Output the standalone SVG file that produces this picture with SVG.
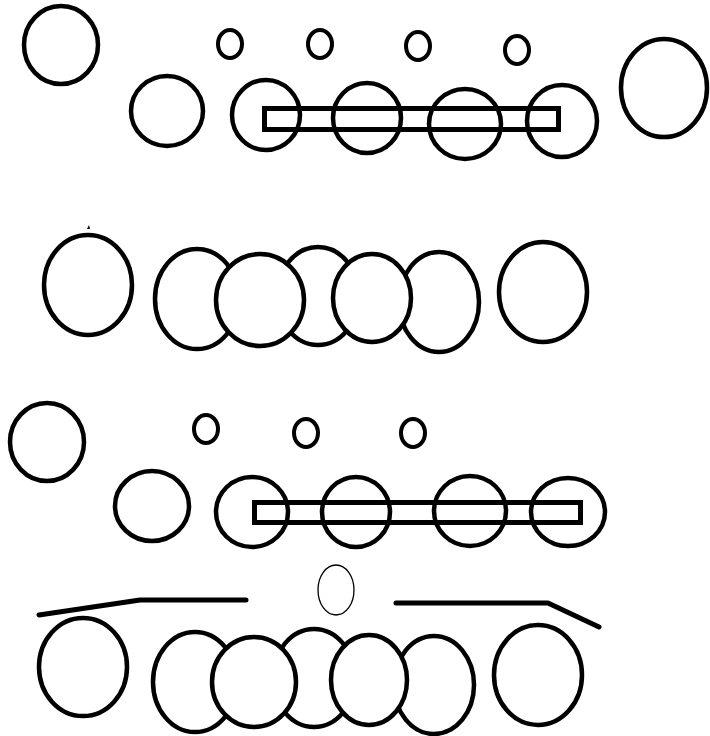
<svg xmlns="http://www.w3.org/2000/svg" width="710" height="736" viewBox="0 0 710 736">
<style>
.s{fill:#fff;stroke:#000;stroke-width:4.5}
.t{fill:#fff;stroke:#000;stroke-width:4}
.th{fill:#fff;stroke:#000;stroke-width:1.3}
.ln{fill:none;stroke:#000;stroke-width:5;stroke-linecap:round;stroke-linejoin:round}
.r{fill:none;stroke:#000;stroke-width:5}
</style>
<rect width="710" height="736" fill="#fff"/>
<g id="row1">
<ellipse class="s" cx="61" cy="45" rx="37" ry="39"/>
<ellipse class="t" cx="230" cy="44" rx="12" ry="14"/>
<ellipse class="t" cx="320" cy="44" rx="12" ry="14"/>
<ellipse class="t" cx="418" cy="46" rx="12" ry="14"/>
<ellipse class="t" cx="517" cy="50" rx="12" ry="14"/>
<ellipse class="s" cx="167" cy="111" rx="36" ry="35"/>
<ellipse class="s" cx="266" cy="115" rx="34" ry="35"/>
<ellipse class="s" cx="367" cy="118" rx="34" ry="35"/>
<ellipse class="s" cx="465" cy="124" rx="36" ry="35"/>
<ellipse class="s" cx="562" cy="121" rx="35" ry="36"/>
<rect class="r" x="264.5" y="108.5" width="294" height="21"/>
<ellipse class="s" cx="664" cy="88" rx="43" ry="49"/>
</g>
<g id="row2">
<path d="M87 229 L89 225 L90 229 Z" fill="#000"/>
<ellipse class="s" cx="88" cy="285" rx="44" ry="50"/>
<ellipse class="s" cx="197" cy="299" rx="42" ry="50"/>
<ellipse class="s" cx="318" cy="296" rx="41" ry="49"/>
<ellipse class="s" cx="439" cy="302" rx="40" ry="50"/>
<ellipse class="s" cx="260" cy="300" rx="44" ry="46"/>
<ellipse class="s" cx="372" cy="298" rx="39" ry="44"/>
<ellipse class="s" cx="543" cy="292" rx="44" ry="50"/>
</g>
<g id="row3">
<ellipse class="s" cx="47" cy="442" rx="37" ry="39"/>
<ellipse class="t" cx="206" cy="429" rx="12" ry="14"/>
<ellipse class="t" cx="306" cy="433" rx="12" ry="14"/>
<ellipse class="t" cx="413" cy="433" rx="12" ry="14"/>
<ellipse class="s" cx="152" cy="506" rx="37" ry="35"/>
<ellipse class="s" cx="252" cy="512" rx="36" ry="35"/>
<ellipse class="s" cx="356" cy="512" rx="34" ry="35"/>
<ellipse class="s" cx="470" cy="511" rx="36" ry="35"/>
<ellipse class="s" cx="568" cy="512" rx="37" ry="34"/>
<rect class="r" x="254.5" y="502.5" width="326" height="20"/>
</g>
<g id="row4">
<ellipse class="th" cx="336" cy="590" rx="18" ry="25"/>
<polyline class="ln" points="39,615 140,600 246,600"/>
<polyline class="ln" points="396,603 548,603 599,627"/>
<ellipse class="s" cx="83" cy="667" rx="44" ry="49"/>
<ellipse class="s" cx="195" cy="682" rx="42" ry="50"/>
<ellipse class="s" cx="314" cy="678" rx="41" ry="49"/>
<ellipse class="s" cx="434" cy="685" rx="40" ry="49"/>
<ellipse class="s" cx="254" cy="682" rx="42" ry="45"/>
<ellipse class="s" cx="369" cy="680" rx="38" ry="45"/>
<ellipse class="s" cx="538" cy="675" rx="44" ry="50"/>
</g>
</svg>
